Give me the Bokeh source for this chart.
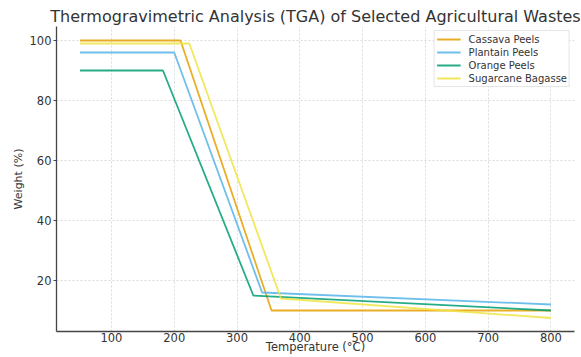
from bokeh.plotting import figure
from bokeh.models import Range1d, Legend, LegendItem, FixedTicker
from bokeh.embed import file_html
from bokeh.resources import INLINE

series_names = ["Cassava Peels", "Plantain Peels", "Orange Peels", "Sugarcane Bagasse"]
cassava_t = [50, 210, 355, 800]
cassava_w = [100, 100, 10, 10]
plantain_t = [50, 200, 340, 800]
plantain_w = [96, 96, 16, 12]
orange_t = [50, 182, 326, 800]
orange_w = [90, 90, 15, 10]
sugarcane_t = [50, 224, 370, 800]
sugarcane_w = [99, 99, 14, 7.5]
x_ticks = [100, 200, 300, 400, 500, 600, 700, 800]
y_ticks = [20, 40, 60, 80, 100]
colors = ["#E69F00", "#56B4E9", "#009E73", "#F0E442"]

FONT = "DejaVu Sans"

p = figure(width=581, height=357, output_backend="svg", toolbar_location=None,
           x_range=Range1d(12.5, 837.5), y_range=Range1d(3.0, 104.67),
           min_border_left=56, min_border_right=7, min_border_top=26, min_border_bottom=26)
p.outline_line_color = None
p.background_fill_color = "white"
p.border_fill_color = "white"

p.title.text = "Thermogravimetric Analysis (TGA) of Selected Agricultural Wastes"
p.title.text_font = FONT
p.title.text_font_size = "16px"
p.title.text_font_style = "normal"
p.title.text_color = "#333333"
p.title.align = "center"
p.title.offset = 0
p.title.standoff = 1

for ax in (p.xaxis[0], p.yaxis[0]):
    ax.axis_line_color = "#444444"
    ax.axis_line_width = 1.3
    ax.major_tick_line_color = "#444444"
    ax.major_tick_out = 3
    ax.major_tick_in = 0
    ax.minor_tick_line_color = None
    ax.major_label_text_font = FONT
    ax.major_label_text_font_size = "11.5px"
    ax.major_label_text_color = "#333333"
    ax.axis_label_text_font = FONT
    ax.axis_label_text_font_size = "11px"
    ax.axis_label_text_font_style = "normal"
    ax.axis_label_text_color = "#333333"
    ax.axis_label_standoff = 2
    ax.major_label_standoff = 2

p.xaxis.major_tick_out = 0
p.xaxis.major_label_standoff = 1
p.xaxis.axis_label_standoff = -5
p.xaxis.axis_label_text_font_size = "11.5px"
p.xaxis.axis_label = "Temperature (°C)"
p.xaxis.ticker = FixedTicker(ticks=x_ticks)
p.yaxis.ticker = FixedTicker(ticks=y_ticks)
p.yaxis.axis_label = "Weight (%)"

p.xgrid.ticker = FixedTicker(ticks=x_ticks)
p.ygrid.ticker = FixedTicker(ticks=y_ticks)
for g in (p.xgrid[0], p.ygrid[0]):
    g.grid_line_color = "#cccccc"
    g.grid_line_dash = "2 2"
    g.grid_line_alpha = 0.7
    g.grid_line_width = 1

data = [(cassava_t, cassava_w), (plantain_t, plantain_w), (orange_t, orange_w), (sugarcane_t, sugarcane_w)]
items = []
for (t, w), c, n in zip(data, colors, series_names):
    r = p.line(t, w, line_color=c, line_width=1.8, line_alpha=0.85)
    items.append(LegendItem(label=n, renderers=[r]))

legend = Legend(items=items, location="top_right")
legend.label_text_font = FONT
legend.label_text_font_size = "10px"
legend.label_text_color = "#333333"
legend.glyph_width = 24
legend.glyph_height = 12
legend.label_height = 12
legend.spacing = 1
legend.padding = 2
legend.margin = 4
legend.border_line_color = "#cccccc"
legend.border_line_width = 1
legend.background_fill_alpha = 0.9
legend.label_standoff = 8
p.add_layout(legend)

open("out.html", "w").write(file_html(p, INLINE))
